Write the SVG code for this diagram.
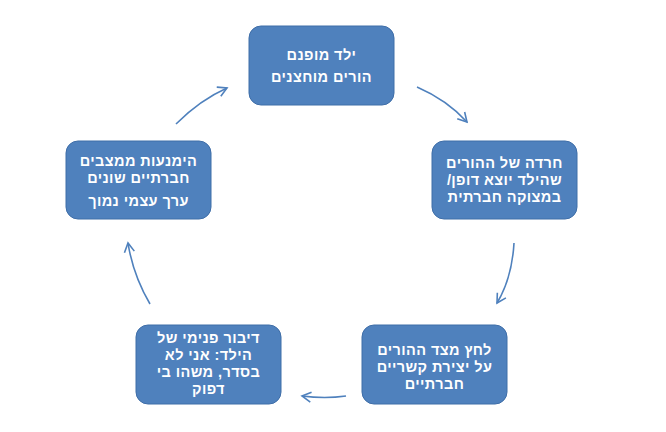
<svg xmlns="http://www.w3.org/2000/svg" width="666" height="432" viewBox="0 0 666 432">
<style>
.box{fill:#4f81bd;stroke:#3f6ea8;stroke-width:1}
.t{font-family:"Liberation Sans",Arial,sans-serif;font-weight:bold;font-size:14.5px;letter-spacing:0.4px;fill:#ffffff;text-anchor:middle;direction:rtl}
.c{fill:none;stroke:#4f81bd;stroke-width:1.6}
</style>
<defs>
<marker id="ah" viewBox="0 0 12 12" refX="10" refY="6" markerWidth="12" markerHeight="12" markerUnits="userSpaceOnUse" orient="auto">
<path d="M1,1 L10,6 L1,11" fill="none" stroke="#4f81bd" stroke-width="1.6"/>
</marker>
</defs>
<rect width="666" height="432" fill="#ffffff"/>
<g id="connectors">
<path class="c" d="M176,124 Q200,100 227,88" marker-end="url(#ah)"/>
<path class="c" d="M417,87 Q447,100 467,122" marker-end="url(#ah)"/>
<path class="c" d="M514,243 Q512,278 497,303" marker-end="url(#ah)"/>
<path class="c" d="M346,396 Q325,399 302,396" marker-end="url(#ah)"/>
<path class="c" d="M150,304 Q133,275 128,243" marker-end="url(#ah)"/>
</g>
<g id="n1">
<rect class="box" x="249" y="26" width="145" height="79" rx="12"/>
<text class="t" x="321.5" y="60">ילד מופנם</text>
<text class="t" x="321.5" y="82">הורים מוחצנים</text>
</g>
<g id="n2">
<rect class="box" x="432" y="141" width="145" height="78" rx="12"/>
<text class="t" x="504.5" y="168">חרדה של ההורים</text>
<text class="t" x="504.5" y="185">שהילד יוצא דופן/</text>
<text class="t" x="504.5" y="202">במצוקה חברתית</text>
</g>
<g id="n3">
<rect class="box" x="362" y="325" width="145" height="79" rx="12"/>
<text class="t" x="434.5" y="355">לחץ מצד ההורים</text>
<text class="t" x="434.5" y="372">על יצירת קשריים</text>
<text class="t" x="434.5" y="389">חברתיים</text>
</g>
<g id="n4">
<rect class="box" x="136" y="325" width="145" height="79" rx="12"/>
<text class="t" x="208.5" y="343">דיבור פנימי של</text>
<text class="t" x="208.5" y="360">הילד: אני לא</text>
<text class="t" x="208.5" y="377">בסדר, משהו בי</text>
<text class="t" x="208.5" y="394">דפוק</text>
</g>
<g id="n5">
<rect class="box" x="66" y="141" width="145" height="78" rx="12"/>
<text class="t" x="138.5" y="166">הימנעות ממצבים</text>
<text class="t" x="138.5" y="183">חברתיים שונים</text>
<text class="t" x="138.5" y="206">ערך עצמי נמוך</text>
</g>
</svg>
